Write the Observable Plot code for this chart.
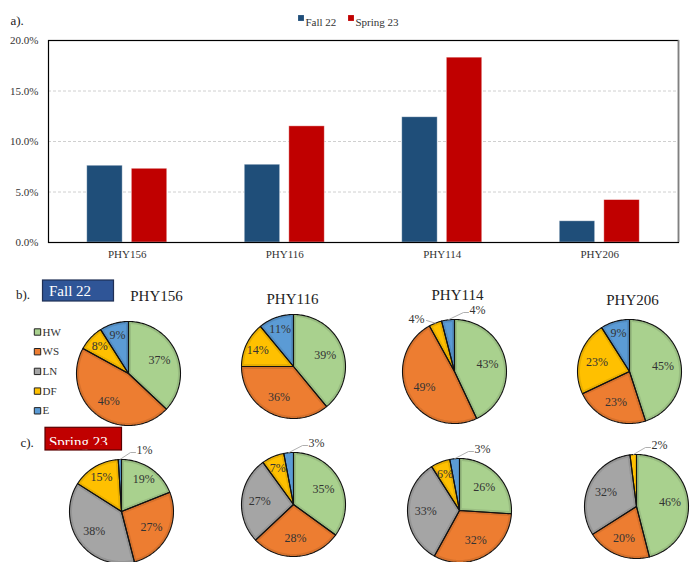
<!DOCTYPE html>
<html>
<head>
<meta charset="utf-8">
<script src="https://cdn.jsdelivr.net/npm/d3@7"></script>
<script src="https://cdn.jsdelivr.net/npm/@observablehq/plot@0.6"></script>
<style>
  body { margin: 0; background: #fff; }
  #chart { width: 699px; }
  #chart svg { display: block; }
</style>
</head>
<body>
<div id="chart"></div>
<script>
// ---------- data ----------
const courses = ["PHY156", "PHY116", "PHY114", "PHY206"];
const terms = ["Fall 22", "Spring 23"];
const fallRates = [7.6, 7.7, 12.4, 2.1];
const springRates = [7.3, 11.5, 18.3, 4.2];
const yTicks = [0, 5, 10, 15, 20];

const categories = ["HW", "WS", "LN", "DF", "E"];
const fallShares = [
  [37, 46, 0, 8, 9],
  [39, 36, 0, 14, 11],
  [43, 49, 0, 4, 4],
  [45, 23, 0, 23, 9]
];
const springShares = [
  [19, 27, 38, 15, 1],
  [35, 28, 27, 7, 3],
  [26, 32, 33, 6, 3],
  [46, 20, 32, 2, 0]
];
const panelTags = ["b).", "c)."];

// ---------- styles ----------
const SERIF = "'Liberation Serif', 'Times New Roman', serif";
const termColors = ["#1f4e79", "#c00000"];
const boxColors = ["#2f5597", "#c00000"];
const catColors = ["#a9d18e", "#ed7d31", "#a5a5a5", "#ffc000", "#5b9bd5"];

// ---------- bar chart ----------
const barRows = courses.flatMap((c, i) => [
  {i, k: 0, course: c, term: terms[0], value: fallRates[i]},
  {i, k: 1, course: c, term: terms[1], value: springRates[i]}
]);
const BAR_W = 0.225, HALF_GAP = 0.029; // in group-width units
const legendDot = [252.5, 302.5];
const legendTxt = [257, 307];

const bar = Plot.plot({
  width: 699, height: 268,
  marginTop: 40, marginRight: 21, marginBottom: 26, marginLeft: 48,
  style: {fontFamily: SERIF, fontSize: "11px", color: "#333", background: "#fff", overflow: "visible"},
  x: {domain: [-0.5, courses.length - 0.5], ticks: d3.range(courses.length), tickFormat: i => courses[i], tickSize: 0, tickPadding: 8, label: null},
  y: {domain: [0, 20], ticks: yTicks, tickFormat: d => d.toFixed(1) + "%", tickSize: 0, tickPadding: 10, label: null},
  color: {domain: terms, range: termColors},
  marks: [
    Plot.ruleY(yTicks.filter(t => t > 0 && t < 20), {stroke: "#d0d0d0", strokeDasharray: "3,2"}),
    Plot.rect(barRows, {
      x1: d => d.i + (d.k ? HALF_GAP : -HALF_GAP - BAR_W),
      x2: d => d.i + (d.k ? HALF_GAP + BAR_W : -HALF_GAP),
      y1: 0, y2: "value", fill: "term", stroke: "#fff", strokeOpacity: 0.5, strokeWidth: 0.8
    }),
    Plot.frame({stroke: "#000", strokeWidth: 1.2}),
    Plot.ruleX([courses.length - 0.5], {stroke: "#808080", strokeWidth: 1.6}),
    Plot.text(["a)."], {text: d => d, frameAnchor: "top-left", dx: -38, dy: -25, textAnchor: "start", fontSize: 13, fill: "#222"}),
    ...terms.map((t, k) => Plot.dot([t], {frameAnchor: "top-left", dx: legendDot[k], dy: -22.5, symbol: "square", r: 3.3, fill: d => d})),
    ...terms.map((t, k) => Plot.text([t], {text: d => d, frameAnchor: "top-left", dx: legendTxt[k], dy: -22.5, textAnchor: "start", fill: "#333"}))
  ]
});

// ---------- pie panels ----------
const R = 52, BEVEL = 2.5;
const pieCenters = [
  [[128, 105], [293, 98], [454, 103], [629, 103]],
  [[121, 243], [293, 236], [459, 242], [636, 238]]
];
const titleX = [156, 292, 457, 632];
const titleY = [28, 31, 27, 32];
const legendX = 37, legendY0 = 63.5, legendStep = 19.7;
const boxes = [
  {x1: 42.5, x2: 113.5, y1: 12, y2: 33, tx: 48.5, ty: 22.8},
  {x1: 45, x2: 121.5, y1: 159.3, y2: 182, tx: 48.5, ty: 174, cut: 177}
];
const tagPos = [[15.5, 26], [20, 174]];

const pies = [];
[fallShares, springShares].forEach((rows, t) => rows.forEach((shares, c) => {
  const [cx, cy] = pieCenters[t][c];
  const arcs = d3.pie().sort(null).value(d => d)(shares);
  const nz = shares.map((v, j) => v > 0 ? j : -1).filter(j => j >= 0);
  const lastJ = nz[nz.length - 1];
  arcs.forEach((a, j) => {
    const v = shares[j];
    if (v <= 0) return;
    pies.push({id: `${t}-${c}-${j}`, cat: categories[j], v, cx, cy, a0: a.startAngle, a1: a.endAngle,
               outside: v < 5, side: j === lastJ ? 1 : -1});
  });
}));

function arcPts(cx, cy, r, a0, a1) {
  const n = Math.max(2, Math.ceil((a1 - a0) / (Math.PI / 120)));
  return d3.range(n + 1).map(k => {
    const a = a0 + (a1 - a0) * k / n;
    return [cx + r * Math.sin(a), cy - r * Math.cos(a)];
  });
}
const toRows = (p, pts) => pts.map(([x, y]) => ({id: p.id, cat: p.cat, x, y}));
const outlinePts = pies.flatMap(p => toRows(p, [[p.cx, p.cy], ...arcPts(p.cx, p.cy, R, p.a0, p.a1), [p.cx, p.cy]]));
const insetPts = pies.flatMap(p => {
  const h = (p.a1 - p.a0) / 2;
  const off = BEVEL / Math.sin(Math.min(h, Math.PI / 2));
  if (off > R * 0.45) return toRows(p, [[p.cx, p.cy], ...arcPts(p.cx, p.cy, R, p.a0, p.a1), [p.cx, p.cy]]);
  const m = (p.a0 + p.a1) / 2;
  const ax = p.cx + off * Math.sin(m), ay = p.cy - off * Math.cos(m);
  const e = BEVEL / (R - BEVEL);
  return toRows(p, [[ax, ay], ...arcPts(p.cx, p.cy, R - BEVEL, p.a0 + e, p.a1 - e), [ax, ay]]);
});

const insideLabels = pies.filter(p => !p.outside).map(p => {
  const m = (p.a0 + p.a1) / 2, k = p.v < 20 ? 0.76 : 0.65;
  return {x: p.cx + k * R * Math.sin(m), y: p.cy - k * R * Math.cos(m), text: p.v + "%"};
});
const outsideLabels = pies.filter(p => p.outside).map(p => {
  const m = (p.a0 + p.a1) / 2;
  const ex = p.cx + R * Math.sin(m), ey = p.cy - R * Math.cos(m);
  const x = p.side > 0 ? p.cx + 15 : p.cx - 30;
  const y = p.side > 0 ? p.cy - R - 9 : p.cy - R;
  const leader = p.side > 0
    ? [[ex, ey], [x - 6, y + 2], [x - 1, y + 2]]
    : [[ex, ey], [x + 2, y + 1]];
  return {id: p.id, x, y, side: p.side, text: p.v + "%", leader};
});
const leaderPts = outsideLabels.flatMap(l => l.leader.map(([x, y]) => ({id: l.id, x, y})));

const legendRows = categories.map((c, j) => ({cat: c, x: legendX, y: legendY0 + j * legendStep}));
const titles = courses.map((c, i) => ({text: c, x: titleX[i], y: titleY[i]}));

const pie = Plot.plot({
  width: 699, height: 294,
  margin: 0,
  style: {fontFamily: SERIF, fontSize: "12px", color: "#333", background: "#fff", overflow: "visible"},
  x: {domain: [0, 699], range: [0, 699], axis: null},
  y: {domain: [0, 294], range: [0, 294], axis: null},
  color: {domain: categories, range: catColors},
  marks: [
    // bevelled slices
    Plot.line(outlinePts, {x: "x", y: "y", z: "id", fill: d => d3.color(catColors[categories.indexOf(d.cat)]).darker(0.28).formatHex(), stroke: "none"}),
    Plot.line(insetPts, {x: "x", y: "y", z: "id", fill: "cat", stroke: "none"}),
    Plot.line(outlinePts, {x: "x", y: "y", z: "id", fill: "none", stroke: "#111", strokeWidth: 1.1, strokeLinejoin: "round"}),
    // slice labels
    Plot.text(insideLabels, {x: "x", y: "y", text: "text", fill: "#333", fontSize: 12}),
    Plot.line(leaderPts, {x: "x", y: "y", z: "id", stroke: "#a6a6a6", strokeWidth: 0.9}),
    Plot.text(outsideLabels.filter(d => d.side > 0), {x: "x", y: "y", text: "text", textAnchor: "start", fill: "#333", fontSize: 12}),
    Plot.text(outsideLabels.filter(d => d.side < 0), {x: "x", y: "y", text: "text", textAnchor: "end", fill: "#333", fontSize: 12}),
    // course titles
    Plot.text(titles, {x: "x", y: "y", text: "text", fontSize: 15, fill: "#222"}),
    // category legend
    Plot.dot(legendRows, {x: "x", y: "y", symbol: "square", r: 3.6, fill: "cat", stroke: "#222", strokeWidth: 1}),
    Plot.text(legendRows, {x: d => d.x + 5, y: "y", text: "cat", textAnchor: "start", fontSize: 11, fill: "#333"}),
    // panel tags
    Plot.text(panelTags.map((t, i) => ({t, x: tagPos[i][0], y: tagPos[i][1]})), {x: "x", y: "y", text: "t", textAnchor: "start", fontSize: 13, fill: "#222"}),
    // term boxes
    Plot.rect(boxes, {x1: "x1", x2: "x2", y1: "y1", y2: "y2", fill: (d, i) => boxColors[i]}),
    Plot.text(boxes.map((b, i) => ({...b, label: terms[i]})), {x: "tx", y: "ty", text: "label", textAnchor: "start", fontSize: 15, fill: "#fff"}),
    Plot.rect(boxes.filter(b => b.cut), {x1: d => d.x1 + 0.5, x2: d => d.x2 - 0.5, y1: "cut", y2: d => d.y2 - 0.5, fill: boxColors[1]}),
    Plot.rect(boxes, {x1: "x1", x2: "x2", y1: "y1", y2: "y2", fill: "none", stroke: (d, i) => i ? "#5a0000" : "#1f2f55", strokeWidth: 1.2})
  ]
});

document.getElementById("chart").append(bar, pie);
</script>
</body>
</html>
